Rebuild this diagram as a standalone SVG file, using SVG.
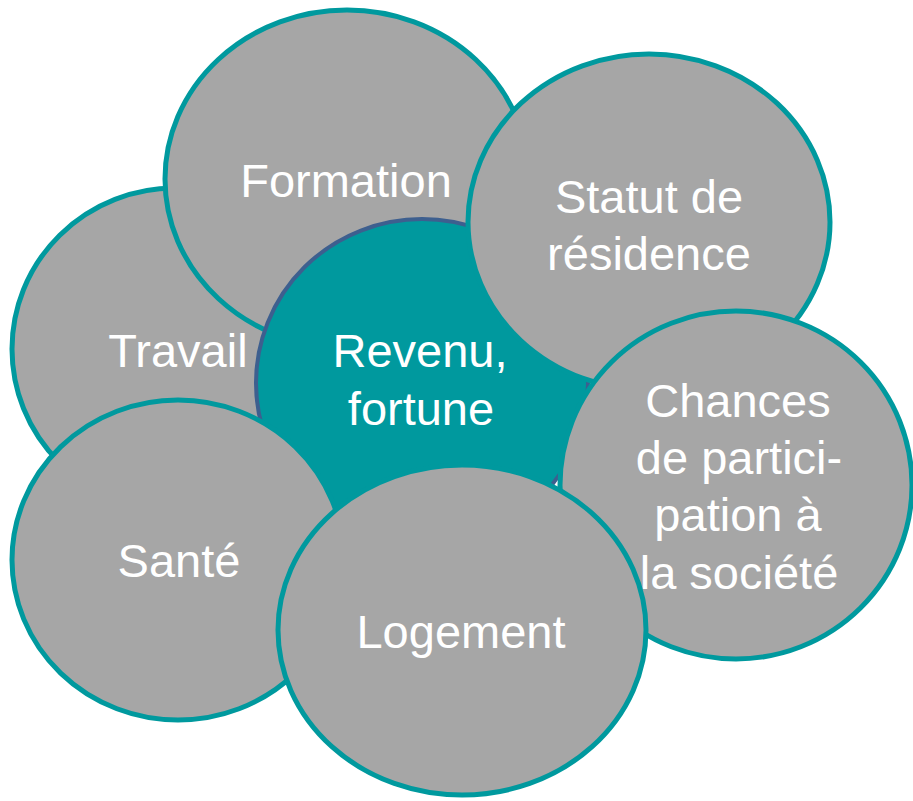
<svg xmlns="http://www.w3.org/2000/svg" width="913" height="801" viewBox="0 0 913 801">
<style>
.c{fill:#a6a6a6;stroke:#00999e;stroke-width:5}
.m{fill:#00999e;stroke:#3d5f8f;stroke-width:4}
text{font-family:"Liberation Sans",Arial,sans-serif;font-size:47px;fill:#ffffff;text-anchor:middle}
</style>
<rect width="913" height="801" fill="#ffffff"/>
<g id="connectors"></g>
<g id="travail"><ellipse class="c" cx="175" cy="349" rx="163" ry="161"/><text x="178" y="367">Travail</text></g>
<g id="formation"><ellipse class="c" cx="347" cy="179" rx="182" ry="169"/><text x="346" y="197">Formation</text></g>
<g id="revenu"><ellipse class="m" cx="422" cy="383" rx="166" ry="164"/><text x="420" y="367">Revenu,</text><text x="421" y="425">fortune</text></g>
<g id="statut"><ellipse class="c" cx="649" cy="222" rx="181" ry="168"/><text x="649" y="213">Statut de</text><text x="649" y="270">résidence</text></g>
<g id="chances"><ellipse class="c" cx="736" cy="485" rx="176" ry="174"/><text x="738" y="417">Chances</text><text x="739" y="474">de partici-</text><text x="738" y="531">pation à</text><text x="739" y="589">la société</text></g>
<g id="sante"><ellipse class="c" cx="178" cy="560" rx="166" ry="160"/><text x="179" y="577">Santé</text></g>
<g id="logement"><ellipse class="c" cx="462" cy="630" rx="184" ry="165"/><text x="461" y="648">Logement</text></g>
</svg>
